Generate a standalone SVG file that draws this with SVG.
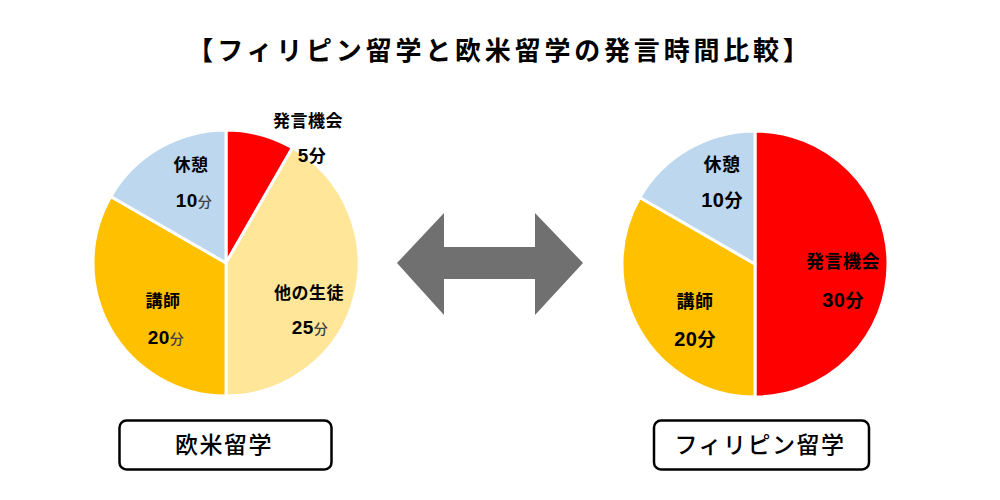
<svg xmlns="http://www.w3.org/2000/svg" width="1000" height="500" viewBox="0 0 1000 500">
<style>
.t{font-family:"Noto Sans CJK JP","Noto Sans",sans-serif;font-weight:700;fill:#000;text-anchor:middle}
.lab{font-size:17px;letter-spacing:0.5px}
.labr{font-size:18px;letter-spacing:0.5px}
.num{font-family:"Liberation Sans","Noto Sans CJK JP",sans-serif;font-size:19px}
.u{font-family:"Noto Sans CJK JP",sans-serif;font-size:14px;font-weight:500;fill:#404040}
.s{stroke:#fff;stroke-width:3;stroke-linejoin:round}
.red{fill:#FF0000}.yel{fill:#FFE699}.ora{fill:#FFC000}.blu{fill:#BDD7EE}
.box{fill:#fff;stroke:#000;stroke-width:2.5}
</style>
<rect width="1000" height="500" fill="#fff"/>
<text class="t" x="500" y="60" style="font-size:26px;letter-spacing:3.8px;font-weight:600">【フィリピン留学と欧米留学の発言時間比較】</text>

<g id="pie-left">
<path class="red s" d="M226,263 L226,130 A133,133 0 0 1 292.5,147.8 Z"/>
<path class="yel s" d="M226,263 L292.5,147.8 A133,133 0 0 1 226,396 Z"/>
<path class="ora s" d="M226,263 L226,396 A133,133 0 0 1 110.8,196.5 Z"/>
<path class="blu s" d="M226,263 L110.8,196.5 A133,133 0 0 1 226,130 Z"/>
<text class="t lab" x="308" y="126.5">発言機会</text>
<text class="t lab" x="312" y="162"><tspan class="num">5</tspan>分</text>
<text class="t lab" x="191" y="170.5">休憩</text>
<text class="t lab" x="194" y="206.5"><tspan class="num">10</tspan><tspan class="u">分</tspan></text>
<text class="t lab" x="163" y="306.5">講師</text>
<text class="t lab" x="166" y="344"><tspan class="num">20</tspan><tspan class="u">分</tspan></text>
<text class="t lab" x="309" y="299">他の生徒</text>
<text class="t lab" x="310" y="334"><tspan class="num">25</tspan><tspan class="u">分</tspan></text>
</g>

<g id="pie-right">
<path class="red s" d="M755,264 L755,131 A133,133 0 0 1 755,397 Z"/>
<path class="ora s" d="M755,264 L755,397 A133,133 0 0 1 639.8,197.5 Z"/>
<path class="blu s" d="M755,264 L639.8,197.5 A133,133 0 0 1 755,131 Z"/>
<text class="t labr" x="722" y="170.5">休憩</text>
<text class="t labr" x="722" y="207"><tspan class="num" style="font-size:20px">10</tspan>分</text>
<text class="t labr" x="843" y="268">発言機会</text>
<text class="t labr" x="843" y="307"><tspan class="num" style="font-size:20px">30</tspan>分</text>
<text class="t labr" x="695" y="308">講師</text>
<text class="t labr" x="695" y="345.5"><tspan class="num" style="font-size:20px">20</tspan>分</text>
</g>

<g id="connectors">
<path id="double-arrow" d="M397,263 L444,213 L444,247 L535,247 L535,213 L583,263 L535,315 L535,279 L444,279 L444,315 Z" fill="#707070"/>
</g>

<g id="box-left">
<rect class="box" x="119.5" y="420.5" width="212" height="49" rx="7"/>
<text class="t" x="224" y="452.5" style="font-size:23px;letter-spacing:1.5px;font-weight:500">欧米留学</text>
</g>
<g id="box-right">
<rect class="box" x="654" y="420.5" width="215" height="49" rx="7"/>
<text class="t" x="760" y="452.5" style="font-size:23px;letter-spacing:1.5px;font-weight:500">フィリピン留学</text>
</g>
</svg>
